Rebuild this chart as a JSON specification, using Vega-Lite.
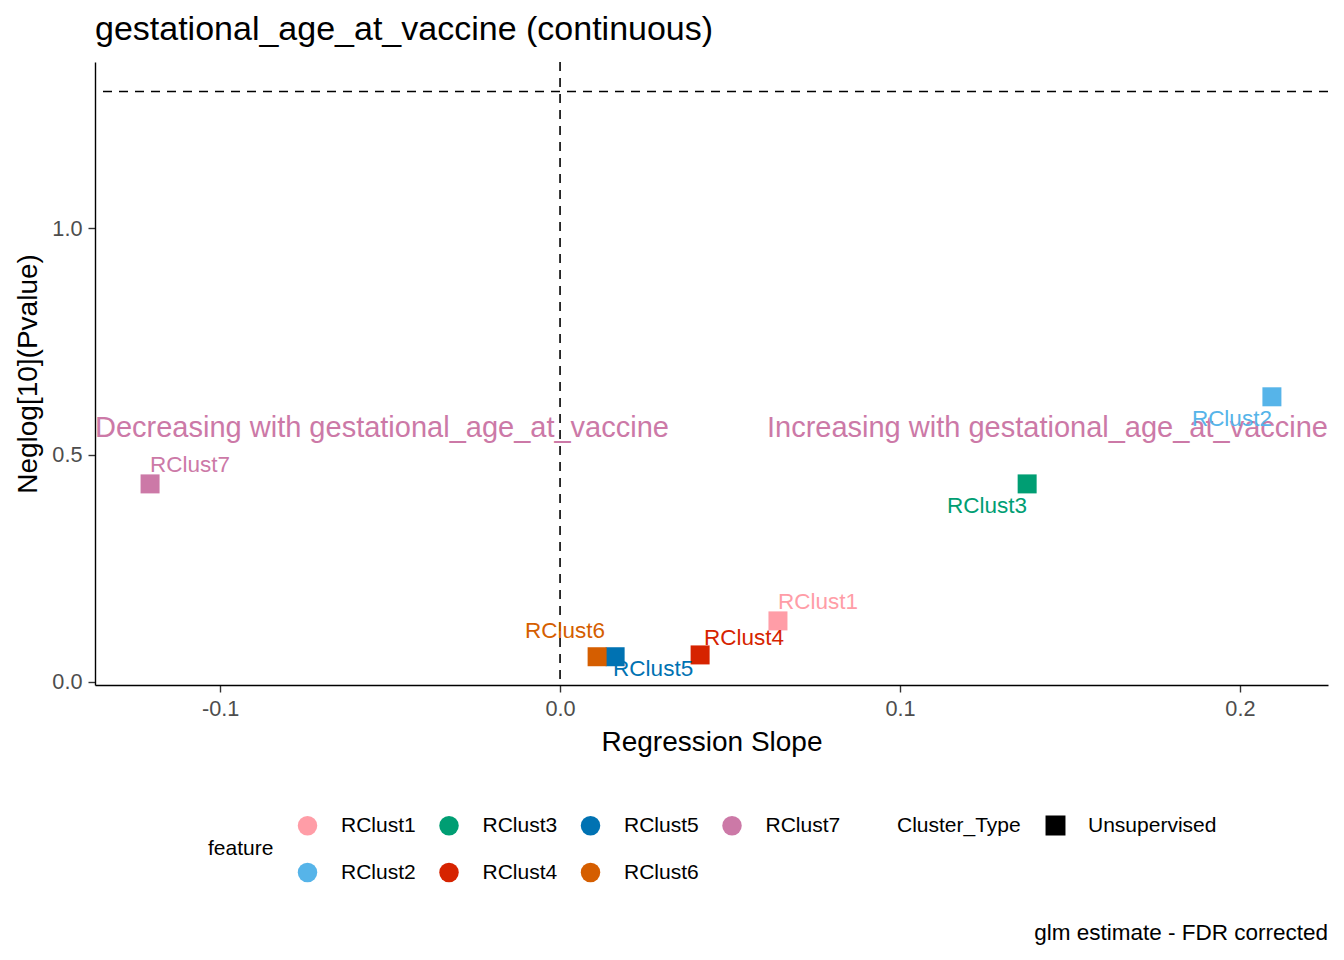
{
  "$schema": "https://vega.github.io/schema/vega-lite/v6.json",
  "title": {
    "text": "gestational_age_at_vaccine (continuous)",
    "anchor": "start",
    "frame": "group",
    "fontSize": 34,
    "fontWeight": "normal",
    "color": "black",
    "baseline": "bottom",
    "offset": -20
  },
  "width": 1233,
  "height": 623,
  "autosize": {"type": "none"},
  "padding": {"left": 95, "top": 62, "right": 16, "bottom": 275},
  "background": "white",
  "datasets": {
    "points": [
      {"feature": "RClust1", "slope": 0.0641, "neglogp": 0.134, "Cluster_Type": "Unsupervised"},
      {"feature": "RClust2", "slope": 0.2094, "neglogp": 0.628, "Cluster_Type": "Unsupervised"},
      {"feature": "RClust3", "slope": 0.1374, "neglogp": 0.436, "Cluster_Type": "Unsupervised"},
      {"feature": "RClust4", "slope": 0.0412, "neglogp": 0.059, "Cluster_Type": "Unsupervised"},
      {"feature": "RClust5", "slope": 0.0162, "neglogp": 0.055, "Cluster_Type": "Unsupervised"},
      {"feature": "RClust6", "slope": 0.0109, "neglogp": 0.055, "Cluster_Type": "Unsupervised"},
      {"feature": "RClust7", "slope": -0.1206, "neglogp": 0.436, "Cluster_Type": "Unsupervised"}
    ],
    "notes": [
      {"side": "left", "label": "Decreasing with gestational_age_at_vaccine", "slope": -0.1368, "neglogp": 0.559},
      {"side": "right", "label": "Increasing with gestational_age_at_vaccine", "slope": 0.2259, "neglogp": 0.559},
      {"side": "caption", "label": "glm estimate - FDR corrected", "slope": 0.2259, "neglogp": -0.553}
    ],
    "refs": [
      {"slope": 0, "neglogp": 1.30103}
    ]
  },
  "encoding": {
    "x": {
      "field": "slope",
      "type": "quantitative",
      "title": "Regression Slope",
      "scale": {"domain": [-0.1368, 0.2259], "nice": false, "zero": false},
      "axis": {
        "values": [-0.1, 0, 0.1, 0.2],
        "labelExpr": "datum.value < 0 ? '-' + format(-datum.value, '.1f') : format(datum.value, '.1f')",
        "grid": false
      }
    },
    "y": {
      "field": "neglogp",
      "type": "quantitative",
      "title": "Neglog[10](Pvalue)",
      "scale": {"domain": [-0.0073, 1.366], "nice": false, "zero": false},
      "axis": {"values": [0, 0.5, 1.0], "format": ".1f", "grid": false}
    }
  },
  "layer": [
    {
      "data": {"name": "refs"},
      "mark": {"type": "rule", "strokeDash": [9, 7], "strokeWidth": 1.6, "color": "black"},
      "encoding": {"y": null}
    },
    {
      "data": {"name": "refs"},
      "mark": {"type": "rule", "strokeDash": [9, 7], "strokeWidth": 1.6, "color": "black"},
      "encoding": {"x": null}
    },
    {
      "data": {"name": "notes"},
      "transform": [{"filter": "datum.side === 'left'"}],
      "mark": {"type": "text", "align": "left", "baseline": "middle", "fontSize": 29, "color": "#CC79A7"},
      "encoding": {"text": {"field": "label"}}
    },
    {
      "data": {"name": "notes"},
      "transform": [{"filter": "datum.side === 'right'"}],
      "mark": {"type": "text", "align": "right", "baseline": "middle", "fontSize": 29, "color": "#CC79A7"},
      "encoding": {"text": {"field": "label"}}
    },
    {
      "data": {"name": "notes"},
      "transform": [{"filter": "datum.side === 'caption'"}],
      "mark": {"type": "text", "align": "right", "baseline": "middle", "fontSize": 22.5, "color": "black"},
      "encoding": {"text": {"field": "label"}}
    },
    {
      "data": {"name": "points"},
      "mark": {"type": "point", "filled": true, "size": 361, "opacity": 1},
      "encoding": {
        "color": {
          "field": "feature",
          "type": "nominal",
          "scale": {
            "domain": ["RClust1", "RClust3", "RClust5", "RClust7", "RClust2", "RClust4", "RClust6"],
            "range": ["#FF9DA7", "#009E73", "#0072B2", "#CC79A7", "#56B4E9", "#D62300", "#D55E00"]
          },
          "legend": {
            "orient": "none",
            "legendX": 113,
            "legendY": 753,
            "columns": 4,
            "direction": "horizontal",
            "symbolType": "circle",
            "symbolSize": 380,
            "titleOrient": "left",
            "titleAnchor": "middle",
            "titleBaseline": "middle",
            "titlePadding": 23,
            "labelOffset": 23,
            "columnPadding": 22.5,
            "rowPadding": 25
          }
        },
        "shape": {
          "field": "Cluster_Type",
          "type": "nominal",
          "scale": {"range": ["square"]},
          "legend": {
            "orient": "none",
            "legendX": 802,
            "legendY": 753,
            "symbolSize": 340,
            "symbolFillColor": "black",
            "symbolStrokeColor": "black",
            "titleOrient": "left",
            "titleAnchor": "middle",
            "titleBaseline": "middle",
            "titlePadding": 24,
            "labelOffset": 22
          }
        }
      }
    },
    {
      "data": {"name": "points"},
      "transform": [{"filter": "indexof(['RClust7', 'RClust1'], datum.feature) >= 0"}],
      "mark": {"type": "text", "align": "left", "baseline": "middle", "fontSize": 22.5, "dx": 0, "dy": -18.5},
      "encoding": {"text": {"field": "feature"}, "color": {"field": "feature", "type": "nominal", "legend": null}}
    },
    {
      "data": {"name": "points"},
      "transform": [{"filter": "datum.feature === 'RClust4'"}],
      "mark": {"type": "text", "align": "left", "baseline": "middle", "fontSize": 22.5, "dx": 4, "dy": -17},
      "encoding": {"text": {"field": "feature"}, "color": {"field": "feature", "type": "nominal", "legend": null}}
    },
    {
      "data": {"name": "points"},
      "transform": [{"filter": "indexof(['RClust2', 'RClust3'], datum.feature) >= 0"}],
      "mark": {"type": "text", "align": "right", "baseline": "middle", "fontSize": 22.5, "dx": 0, "dy": 22},
      "encoding": {"text": {"field": "feature"}, "color": {"field": "feature", "type": "nominal", "legend": null}}
    },
    {
      "data": {"name": "points"},
      "transform": [{"filter": "datum.feature === 'RClust5'"}],
      "mark": {"type": "text", "align": "left", "baseline": "middle", "fontSize": 22.5, "dx": -2, "dy": 12},
      "encoding": {"text": {"field": "feature"}, "color": {"field": "feature", "type": "nominal", "legend": null}}
    },
    {
      "data": {"name": "points"},
      "transform": [{"filter": "datum.feature === 'RClust6'"}],
      "mark": {"type": "text", "align": "right", "baseline": "middle", "fontSize": 22.5, "dx": 8, "dy": -26},
      "encoding": {"text": {"field": "feature"}, "color": {"field": "feature", "type": "nominal", "legend": null}}
    }
  ],
  "config": {
    "font": "Liberation Sans",
    "view": {"stroke": null},
    "axis": {
      "domainColor": "black",
      "domainWidth": 1.4,
      "tickColor": "#333333",
      "tickWidth": 1.4,
      "tickSize": 7,
      "labelColor": "#4D4D4D",
      "labelFontSize": 21.7,
      "labelPadding": 6,
      "titleFontSize": 28,
      "titleFontWeight": "normal",
      "titleColor": "black"
    },
    "axisX": {"titlePadding": 9},
    "axisY": {"titlePadding": 9},
    "legend": {
      "labelFontSize": 21,
      "titleFontSize": 21,
      "titleFontWeight": "normal",
      "labelColor": "black",
      "titleColor": "black"
    }
  }
}
